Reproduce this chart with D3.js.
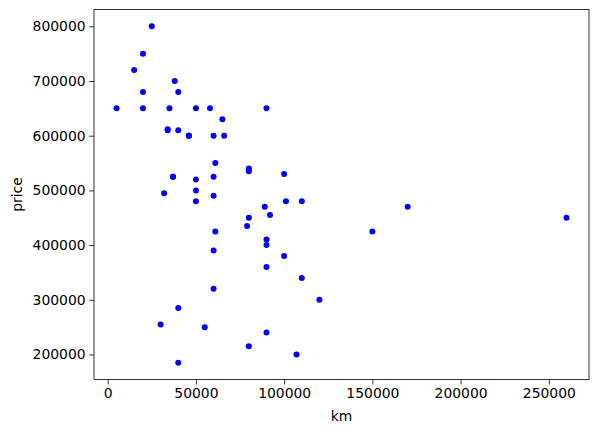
<!DOCTYPE html>
<html lang="en">
<head>
<meta charset="UTF-8">
<title>km vs price</title>
<script src="https://d3js.org/d3.v7.min.js"></script>
<style>
  body { margin: 0; background: #fff; }
  text { font-family: "DejaVu Sans", sans-serif; }
</style>
</head>
<body>
<div id="chart"></div>
<script>
// Data
var km = [25000, 20000, 15000, 38000, 40000, 20000, 5000, 20000, 35000, 50000,
          58000, 90000, 65000, 34000, 34000, 40000, 46000, 46000, 46000, 60000,
          66000, 61000, 80000, 80000, 100000, 37000, 37000, 50000, 60000, 32000,
          50000, 60000, 50000, 89000, 101000, 110000, 92000, 80000, 79000, 61000,
          90000, 90000, 60000, 100000, 90000, 170000, 260000, 150000, 110000, 120000,
          90000, 80000, 107000, 60000, 40000, 30000, 55000, 40000];
var price = [800000, 750000, 720000, 700000, 680000, 680000, 650000, 650000, 650000, 650000,
             650000, 650000, 630000, 612000, 610000, 610000, 600000, 600000, 600000, 600000,
             600000, 550000, 540000, 535000, 530000, 525000, 525000, 520000, 525000, 495000,
             500000, 490000, 480000, 470000, 480000, 480000, 455000, 450000, 435000, 425000,
             410000, 400000, 390000, 380000, 360000, 470000, 450000, 425000, 340000, 300000,
             240000, 215000, 200000, 320000, 285000, 255000, 250000, 185000];
var xTicks = [0, 50000, 100000, 150000, 200000, 250000];
var yTicks = [200000, 300000, 400000, 500000, 600000, 700000, 800000];

var W = 598, H = 432;
var margin = {top: 9.5, right: 9, bottom: 52.5, left: 94};
var width = W - margin.left - margin.right,
    height = H - margin.top - margin.bottom;

var svg = d3.select("#chart").append("svg")
    .attr("width", W).attr("height", H);
var g = svg.append("g")
    .attr("transform", "translate(" + margin.left + "," + margin.top + ")");

// matplotlib style 5% padding
var xMin = d3.min(km), xMax = d3.max(km), xPad = (xMax - xMin) * 0.05;
var yMin = d3.min(price), yMax = d3.max(price), yPad = (yMax - yMin) * 0.05;

var x = d3.scaleLinear().domain([xMin - xPad, xMax + xPad]).range([0, width]);
var y = d3.scaleLinear().domain([yMin - yPad, yMax + yPad]).range([height, 0]);

// points
g.append("g").selectAll("circle")
  .data(km.map(function(d, i) { return [d, price[i]]; }))
  .enter().append("circle")
    .attr("cx", function(d) { return x(d[0]); })
    .attr("cy", function(d) { return y(d[1]); })
    .attr("r", 3)
    .style("fill", "#0000ff");

// axes
var xAxis = g.append("g")
    .attr("transform", "translate(0," + height + ")")
    .call(d3.axisBottom(x).tickValues(xTicks).tickFormat(d3.format("d"))
      .tickSizeInner(4.9).tickSizeOuter(0).tickPadding(3.5));
var yAxis = g.append("g")
    .call(d3.axisLeft(y).tickValues(yTicks).tickFormat(d3.format("d"))
      .tickSizeInner(4.9).tickSizeOuter(0).tickPadding(3.5));

[xAxis, yAxis].forEach(function(a) {
  a.select(".domain").remove();
  a.selectAll("line").attr("stroke", "#000").attr("stroke-width", 0.8);
  a.selectAll("text").attr("fill", "#000").style("font-size", "13.9px")
    .style("font-family", "'DejaVu Sans', sans-serif");
});

// frame
g.append("rect")
  .attr("width", width).attr("height", height)
  .attr("fill", "none").attr("stroke", "#000").attr("stroke-width", 0.8);

// axis labels
g.append("text")
  .attr("x", width / 2).attr("y", height + 41)
  .attr("text-anchor", "middle")
  .style("font-size", "13.9px")
  .text("km");

g.append("text")
  .attr("transform", "rotate(-90)")
  .attr("x", -height / 2).attr("y", -72)
  .attr("text-anchor", "middle")
  .style("font-size", "13.9px")
  .text("price");
</script>
</body>
</html>
